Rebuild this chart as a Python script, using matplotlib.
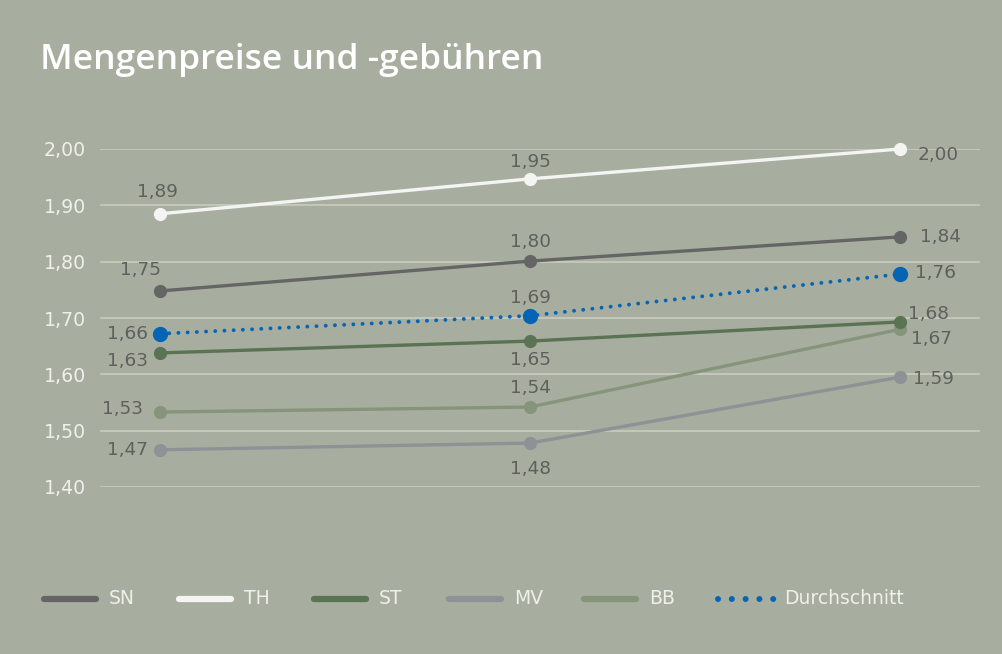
import numpy as np
import matplotlib
matplotlib.use("Agg")
import matplotlib.pyplot as plt
from matplotlib.lines import Line2D

# data
years = ["a", "b", "c"]
series = ["SN", "TH", "ST", "MV", "BB", "Durchschnitt"]
values = {
    "SN": [1.748, 1.801, 1.844],
    "TH": [1.885, 1.947, 2.000],
    "ST": [1.638, 1.659, 1.693],
    "MV": [1.466, 1.478, 1.595],
    "BB": [1.533, 1.542, 1.680],
    "Durchschnitt": [1.672, 1.704, 1.778],
}
labels = {
    "SN": ["1,75", "1,80", "1,84"],
    "TH": ["1,89", "1,95", "2,00"],
    "ST": ["1,63", "1,65", "1,68"],
    "MV": ["1,47", "1,48", "1,59"],
    "BB": ["1,53", "1,54", "1,67"],
    "Durchschnitt": ["1,66", "1,69", "1,76"],
}
yticks = [1.40, 1.50, 1.60, 1.70, 1.80, 1.90, 2.00]

colors = {
    "SN": "#656565",
    "TH": "#f4f4f2",
    "ST": "#5a7353",
    "MV": "#8e9196",
    "BB": "#86947b",
    "Durchschnitt": "#0565b4",
}

# label placement (pixel offsets, alignment) per series and point
label_pos = {
    "SN": [(-20, 21, "center"), (0, 19, "center"), (20, 0, "left")],
    "TH": [(-3, 22, "center"), (0, 17, "center"), (18, -6, "left")],
    "ST": [(-12, -8, "right"), (0, -19, "center"), (8, 8, "left")],
    "MV": [(-12, 0, "right"), (0, -26, "center"), (13, -2, "left")],
    "BB": [(-17, 3, "right"), (0, 19, "center"), (11, -10, "left")],
    "Durchschnitt": [(-12, 0, "right"), (0, 18, "center"), (15, 1, "left")],
}

BG = "#a8ae9f"
LABEL_COLOR = "#5f605c"
TICK_COLOR = "#eef0ea"
GRID_COLOR = "#c6cabe"
FONT = "DejaVu Sans"

W, H = 1002, 654
fig = plt.figure(figsize=(W / 100, H / 100), dpi=100, facecolor=BG)

# axes placed so gridlines run from x=100 to 980, 2.00 at y=149, 1.40 at y=487
ax = fig.add_axes([100 / W, 1 - 487 / H, 880 / W, (487 - 149) / H])
ax.set_facecolor(BG)
x = np.arange(len(years))
ax.set_xlim(-60 / 370, 2 + 80 / 370)
ax.set_ylim(1.40, 2.00)

for yv in yticks:
    ax.axhline(yv, color=GRID_COLOR, lw=1.3, zorder=1)

order = ["BB", "MV", "ST", "SN", "TH", "Durchschnitt"]
for name in order:
    c = colors[name]
    if name == "Durchschnitt":
        ax.plot(x, values[name], color=c, lw=2.8, linestyle=(0, (0.01, 2.36)),
                dash_capstyle="round", zorder=4, clip_on=False)
        ax.plot(x, values[name], "o", color=c, ms=10, zorder=5, clip_on=False)
    else:
        ax.plot(x, values[name], color=c, lw=2.4, solid_capstyle="round",
                zorder=3, clip_on=False)
        ax.plot(x, values[name], "o", color=c, ms=8.5, zorder=3, clip_on=False)
    for i, (xv, yv) in enumerate(zip(x, values[name])):
        dx, dy, ha = label_pos[name][i]
        ax.annotate(labels[name][i], (xv, yv), xytext=(dx, dy),
                    textcoords="offset pixels", ha=ha, va="center",
                    fontsize=13.3, color=LABEL_COLOR, family=FONT, zorder=6)

ax.set_yticks(yticks)
ax.set_yticklabels([f"{v:.2f}".replace(".", ",") for v in yticks],
                   family=FONT, fontsize=13.6, color=TICK_COLOR)
ax.tick_params(axis="y", length=0, pad=10)
ax.set_xticks([])
for s in ax.spines.values():
    s.set_visible(False)

fig.text(40 / W, 1 - 60 / H, "Mengenpreise und -gebühren", fontsize=25.5,
         color="white", family="Open Sans", weight="semibold",
         va="center", ha="left")

# legend
leg_y = 1 - 599 / H
for k, name in enumerate(series):
    x0 = 42 + 135 * k
    if name == "Durchschnitt":
        x0 = 718
        fig.add_artist(Line2D([x0 / W, (x0 + 56) / W], [leg_y, leg_y],
                              color=colors[name], lw=4.3,
                              linestyle=(0, (0.01, 2.3)),
                              dash_capstyle="round", transform=fig.transFigure))
        tx = 784
    else:
        fig.add_artist(Line2D([(x0 + 2) / W, (x0 + 54) / W], [leg_y, leg_y],
                              color=colors[name], lw=4.5,
                              solid_capstyle="round", transform=fig.transFigure))
        tx = x0 + 67
    fig.text(tx / W, leg_y, name, fontsize=13.5, color=TICK_COLOR,
             family=FONT, va="center", ha="left")

fig.savefig("out.png", dpi=100, facecolor=BG)
